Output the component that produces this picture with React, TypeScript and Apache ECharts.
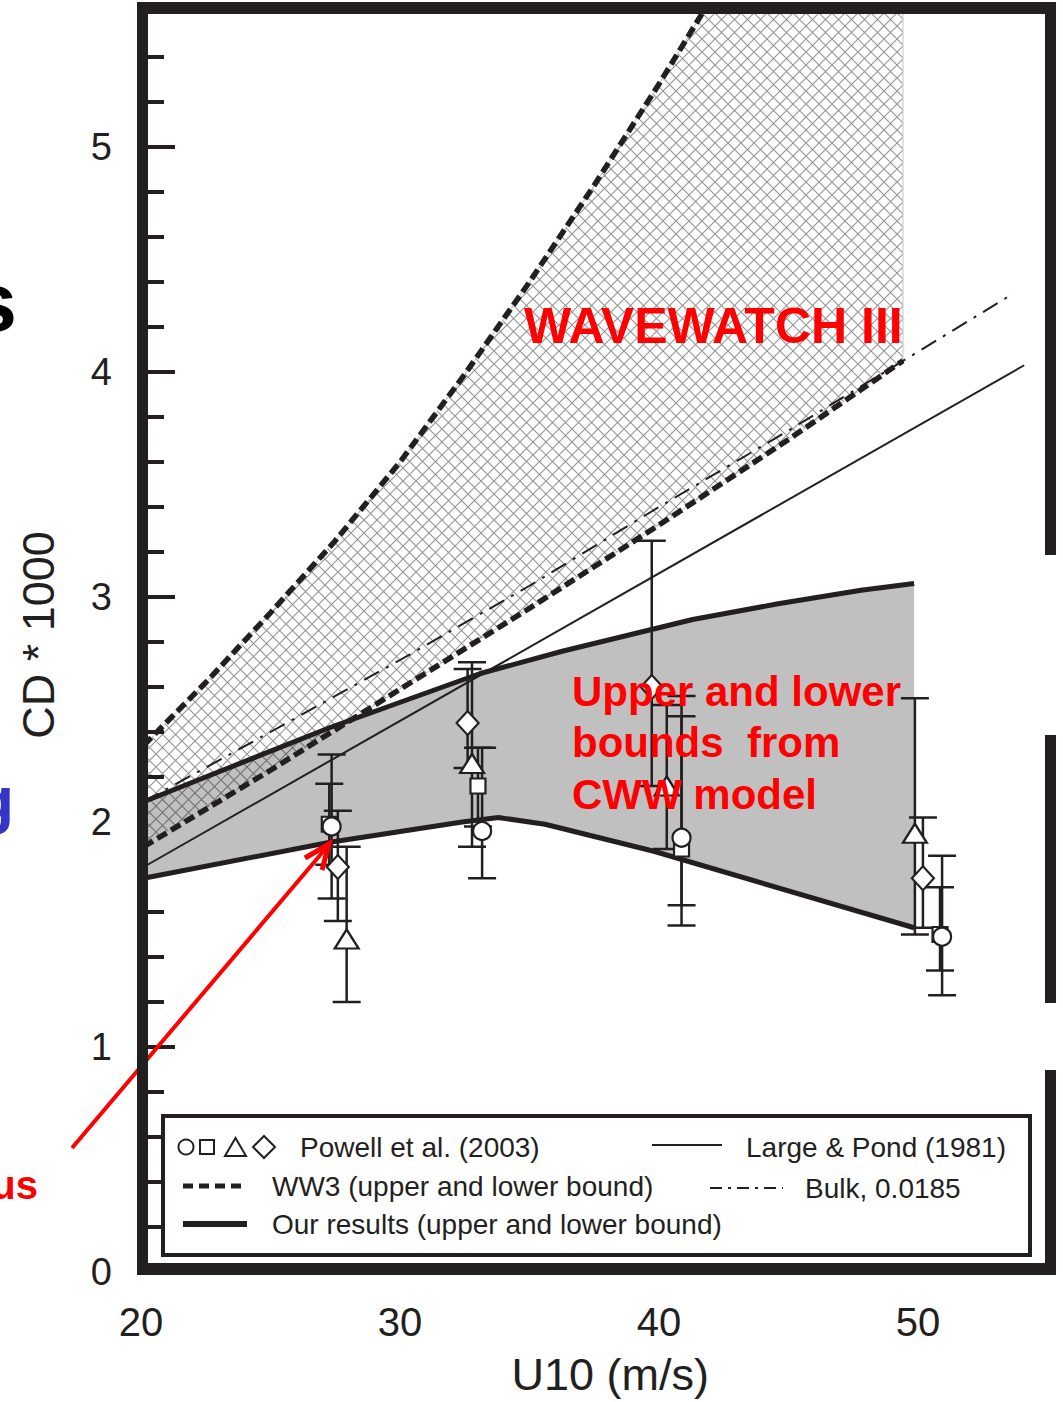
import React, { useEffect, useRef } from 'react';
import * as echarts from 'echarts';

const FONT = '"Liberation Sans", Arial, Helvetica, sans-serif';
const INK = '#231f20';
const RED = '#ff0000';

// Drag coefficient curves, U10 (m/s) vs CD*1000
const ww3Upper: number[][] = [[20.1, 2.34], [22.5, 2.62], [25, 2.93], [27.5, 3.25], [30, 3.6], [32.5, 3.99], [35, 4.4], [37.5, 4.83], [40, 5.28], [42.5, 5.75], [45, 6.25], [49.42, 7.2]];
const ww3Lower: number[][] = [[20.1, 1.89], [25, 2.23], [30, 2.59], [35, 2.95], [40, 3.32], [45, 3.7], [49.42, 4.05]];
const bulk: number[][] = [[20.1, 2.09], [25, 2.4], [30, 2.72], [35, 3.05], [40, 3.4], [45, 3.74], [50, 4.09], [53.7, 4.35]];
const largePond: number[][] = [[20.1, 1.8], [54.1, 4.03]];
const cwwUpper: number[][] = [[20.1, 2.09], [27.3, 2.42], [33.1, 2.66], [36.3, 2.76], [41.3, 2.9], [44.6, 2.97], [47.8, 3.03], [49.85, 3.06]];
const cwwLower: number[][] = [[20.1, 1.75], [27.3, 1.91], [32.4, 2.0], [33.8, 2.02], [35.6, 1.99], [37, 1.95], [39.8, 1.87], [49.85, 1.53]];

// Powell et al. (2003) observations: [U10, CD*1000, lower, upper]
const circleObs: number[][] = [[27.36, 1.98, 1.66, 2.3], [33.17, 1.96, 1.75, 2.33], [40.87, 1.93, 1.54, 2.47], [50.93, 1.49, 1.23, 1.85]];
const squareObs: number[][] = [[27.27, 1.99, 1.81, 2.17], [33.01, 2.16, 1.98, 2.33], [40.87, 1.88, 1.63, 2.56], [50.85, 1.5, 1.34, 1.71]];
const triangleObs: number[][] = [[27.94, 1.48, 1.2, 1.89], [32.78, 2.26, 1.89, 2.71], [40.3, 2.16, 1.88, 2.52], [49.88, 1.95, 1.5, 2.55]];
const diamondObs: number[][] = [[27.6, 1.8, 1.56, 2.05], [32.61, 2.44, 2.24, 2.68], [39.72, 2.6, 2.16, 3.25], [50.19, 1.75, 1.53, 2.02]];

const xTicks = { min: 20, max: 55, interval: 10 };
const yMajor = { min: 0, max: 5.6, interval: 1 };
const yMinor = { min: 0, max: 5.6, interval: 0.2 };

function crossHatch() {
  const n = 13;
  const c = document.createElement('canvas');
  c.width = n;
  c.height = n;
  const g = c.getContext('2d') as CanvasRenderingContext2D;
  g.strokeStyle = 'rgba(0,0,0,0.42)';
  g.lineWidth = 1.1;
  g.beginPath();
  g.moveTo(-1, -1); g.lineTo(n + 1, n + 1);
  g.moveTo(n + 1, -1); g.lineTo(-1, n + 1);
  g.stroke();
  return { image: c, repeat: 'repeat', imageWidth: n, imageHeight: n };
}

function band(top: number[][], bottom: number[][], style: any, z: number) {
  return {
    type: 'custom',
    z,
    clip: true,
    silent: true,
    data: [[30, 3]],
    renderItem: (_p: any, api: any) => {
      const pts = [...top.map((d) => api.coord(d)), ...bottom.slice().reverse().map((d) => api.coord(d))];
      return { type: 'polygon', shape: { points: pts }, style };
    },
  };
}

function curve(data: number[][], width: number, type: any) {
  return {
    type: 'line',
    data,
    z: 3,
    symbol: 'none',
    silent: true,
    lineStyle: { color: INK, width, type, cap: 'butt' },
  };
}

function markers(data: number[][], symbol: string, size: any) {
  return {
    type: 'scatter',
    z: 5,
    symbol,
    symbolSize: size,
    data: data.map((d) => [d[0], d[1]]),
    itemStyle: { color: '#ffffff', borderColor: INK, borderWidth: 2.2, opacity: 1 },
  };
}

function txt(text: string, x: number, y: number, font: string, fill: string, align = 'left', z = 100) {
  return { type: 'text', z, style: { text, x, y, font, fill, align, verticalAlign: 'middle' } };
}

export default function App() {
  const ref = useRef<HTMLDivElement>(null);

  useEffect(() => {
    if (!ref.current) return;
    const chart = echarts.init(ref.current, undefined, { renderer: 'svg' });
    const allObs = [...circleObs, ...squareObs, ...triangleObs, ...diamondObs];
    const legendFont = `28px ${FONT}`;
    const redFont = `bold 42px ${FONT}`;

    const option: any = {
      animation: false,
      backgroundColor: '#ffffff',
      grid: { left: 141, right: 15.5, top: 12, bottom: 130 },
      xAxis: {
        type: 'value',
        ...xTicks,
        axisLine: { show: false },
        axisTick: { show: false },
        splitLine: { show: false },
        axisLabel: { fontSize: 40, color: INK, margin: 30, fontFamily: FONT, showMaxLabel: false },
        name: 'U10 (m/s)',
        nameLocation: 'middle',
        nameGap: 80,
        nameTextStyle: { fontSize: 45, color: INK, fontFamily: FONT, padding: [0, 0, 0, 32] },
      },
      yAxis: [
        {
          type: 'value',
          ...yMajor,
          axisLine: { show: true, lineStyle: { color: INK, width: 2 } },
          axisTick: { show: true, inside: true, length: 34, lineStyle: { color: INK, width: 4 } },
          splitLine: { show: false },
          axisLabel: { fontSize: 38, color: INK, margin: 29, fontFamily: FONT, showMaxLabel: false },
          name: 'CD * 1000',
          nameLocation: 'middle',
          nameGap: 80,
          nameRotate: 90,
          nameTextStyle: { fontSize: 45, color: INK, fontFamily: FONT, padding: [0, 0, 0, 14] },
        },
        {
          type: 'value',
          ...yMinor,
          position: 'left',
          offset: 0,
          axisLine: { show: false },
          axisTick: { show: true, inside: true, length: 23, lineStyle: { color: INK, width: 4 } },
          axisLabel: { show: false },
          splitLine: { show: false },
        },
      ],
      series: [
        band(cwwUpper, cwwLower, { fill: '#c0c0c0' }, 1),
        band(ww3Upper, ww3Lower, { fill: crossHatch(), stroke: '#c4c4c4', lineWidth: 1 }, 2),
        curve(ww3Upper, 5.5, [11, 5]),
        curve(ww3Lower, 5.5, [11, 5]),
        curve(bulk, 2, [17, 8, 3, 8]),
        curve(largePond, 2, 'solid'),
        curve(cwwUpper, 5, 'solid'),
        curve(cwwLower, 5, 'solid'),
        {
          type: 'custom',
          z: 4,
          silent: true,
          data: allObs,
          encode: { x: 0, y: 1 },
          renderItem: (_p: any, api: any) => {
            const x = api.value(0);
            const top = api.coord([x, api.value(3)]);
            const bot = api.coord([x, api.value(2)]);
            const hw = 14;
            const st = { stroke: INK, lineWidth: 2.5 };
            return {
              type: 'group',
              children: [
                { type: 'line', shape: { x1: top[0], y1: top[1], x2: bot[0], y2: bot[1] }, style: st },
                { type: 'line', shape: { x1: top[0] - hw, y1: top[1], x2: top[0] + hw, y2: top[1] }, style: st },
                { type: 'line', shape: { x1: bot[0] - hw, y1: bot[1], x2: bot[0] + hw, y2: bot[1] }, style: st },
              ],
            };
          },
        },
        markers(squareObs, 'rect', 15),
        markers(circleObs, 'circle', 18),
        markers(triangleObs, 'triangle', [24, 19]),
        markers(diamondObs, 'diamond', [22, 24]),
      ],
      graphic: [
        // annotations inside the plot
        txt('WAVEWATCH III', 524, 326, `bold 50px ${FONT}`, RED),
        txt('Upper and lower', 572, 691, redFont, RED),
        txt('bounds  from', 572, 742, redFont, RED),
        txt('CWW model', 572, 794, redFont, RED),
        // arrow
        { type: 'line', z: 110, shape: { x1: 72, y1: 1148, x2: 327, y2: 847 }, style: { stroke: RED, lineWidth: 4 } },
        { type: 'polyline', z: 110, shape: { points: [[305, 858], [329, 844], [322, 870]] }, style: { stroke: RED, lineWidth: 5, fill: null } },
        // clipped slide text on the far left
        txt('s', 17, 302, `bold 84px ${FONT}`, '#000000', 'right', 91),
        txt('g', 14, 800, `bold 64px ${FONT}`, '#3535c8', 'right', 91),
        txt('us', 38, 1185, `bold 40px ${FONT}`, RED, 'right', 91),
        // legend box
        { type: 'rect', z: 150, shape: { x: 163, y: 1116, width: 867, height: 139 }, style: { fill: '#ffffff', stroke: INK, lineWidth: 4 } },
        { type: 'circle', z: 151, shape: { cx: 186, cy: 1147, r: 7.5 }, style: { fill: '#fff', stroke: INK, lineWidth: 2 } },
        { type: 'rect', z: 151, shape: { x: 200, y: 1140, width: 14, height: 14 }, style: { fill: '#fff', stroke: INK, lineWidth: 2 } },
        { type: 'polygon', z: 151, shape: { points: [[225, 1156], [246, 1156], [235.5, 1138]] }, style: { fill: '#fff', stroke: INK, lineWidth: 2 } },
        { type: 'polygon', z: 151, shape: { points: [[264, 1136], [275, 1147], [264, 1158], [253, 1147]] }, style: { fill: '#fff', stroke: INK, lineWidth: 2 } },
        txt('Powell et al. (2003)', 300, 1147, legendFont, INK, 'left', 151),
        { type: 'line', z: 151, shape: { x1: 652, y1: 1145, x2: 722, y2: 1145 }, style: { stroke: INK, lineWidth: 2 } },
        txt('Large & Pond (1981)', 746, 1147, legendFont, INK, 'left', 151),
        { type: 'line', z: 151, shape: { x1: 183, y1: 1186, x2: 247, y2: 1186 }, style: { stroke: INK, lineWidth: 5, lineDash: [10, 6] } },
        txt('WW3 (upper and lower bound)', 272, 1186, legendFont, INK, 'left', 151),
        { type: 'line', z: 151, shape: { x1: 710, y1: 1188, x2: 783, y2: 1188 }, style: { stroke: INK, lineWidth: 2, lineDash: [12, 6, 3, 6] } },
        txt('Bulk, 0.0185', 805, 1188, legendFont, INK, 'left', 151),
        { type: 'line', z: 151, shape: { x1: 183, y1: 1224, x2: 247, y2: 1224 }, style: { stroke: INK, lineWidth: 6 } },
        txt('Our results (upper and lower bound)', 272, 1224, legendFont, INK, 'left', 151),
        // plot frame
        { type: 'rect', z: 200, shape: { x: 137, y: 2, width: 919, height: 12 }, style: { fill: INK } },
        { type: 'rect', z: 200, shape: { x: 137, y: 2, width: 11, height: 1273 }, style: { fill: INK } },
        { type: 'rect', z: 200, shape: { x: 137, y: 1263, width: 919, height: 12 }, style: { fill: INK } },
        { type: 'rect', z: 200, shape: { x: 1045, y: 2, width: 11, height: 553 }, style: { fill: INK } },
        { type: 'rect', z: 200, shape: { x: 1045, y: 735, width: 11, height: 268 }, style: { fill: INK } },
        { type: 'rect', z: 200, shape: { x: 1045, y: 1070, width: 11, height: 205 }, style: { fill: INK } },
      ],
    };

    chart.setOption(option);
    return () => chart.dispose();
  }, []);

  return <div ref={ref} style={{ position: 'absolute', left: 0, top: 0, width: 1063, height: 1402 }} />;
}
